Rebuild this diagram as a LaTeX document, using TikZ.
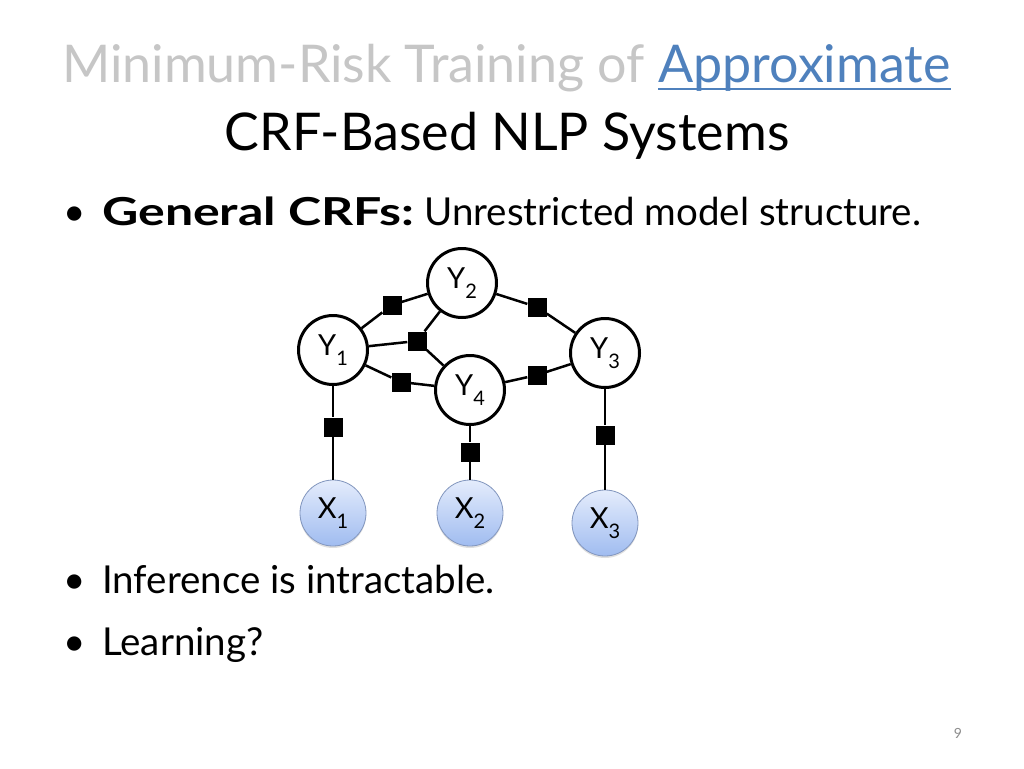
\documentclass[tikz,border=0pt]{standalone}
\usepackage{fontspec}
\setmainfont{Lato}
\usetikzlibrary{shadows,calc}
\definecolor{titlegray}{RGB}{198,198,198}
\definecolor{linkblue}{RGB}{79,129,189}
\definecolor{xtop}{RGB}{228,236,252}
\definecolor{xbot}{RGB}{160,188,240}
\definecolor{xborder}{RGB}{130,150,190}
\definecolor{pagegray}{RGB}{140,140,140}
\newcommand{\lsub}[1]{\raisebox{-0.36em}{\fontsize{20}{20}\selectfont #1}}
\begin{document}
\begin{tikzpicture}[x=1pt,y=-1pt,
  ynode/.style={circle,draw=black,line width=3pt,fill=white,minimum size=69pt,inner sep=0pt,font=\fontsize{29}{29}\selectfont},
  xnode/.style={circle,draw=xborder,line width=0.8pt,top color=xtop,bottom color=xbot,minimum size=66pt,inner sep=0pt,font=\fontsize{29}{29}\selectfont,
    drop shadow={shadow xshift=0pt,shadow yshift=-2pt,opacity=0.25}},
  factor/.style={rectangle,fill=black,minimum size=19pt,inner sep=0pt},
  edge/.style={line width=2.5pt},
  titletxt/.style={inner sep=0pt,font=\fontsize{52}{52}\selectfont},
  txt/.style={anchor=base west,inner sep=0pt,font=\fontsize{38.5}{38.5}\selectfont}]
\useasboundingbox[fill=white] (0,0) rectangle (1024,768);

% title
\node[titletxt,anchor=base west,text=titlegray] (t1g) at (62,82) {Minimum-Risk Training of\ \null};
\node[titletxt,anchor=base west,text=linkblue] (t1b) at (t1g.base east) {Approximate};
\coordinate (ulA) at ($(t1b.base west)+(0,7)$);
\coordinate (ulB) at ($(t1b.base east)+(0,7)$);
\draw[linkblue,line width=1.8pt] (ulA) -- (ulB);
\node[titletxt,anchor=base] (t2) at (507,150) {CRF-Based NLP Systems};

% bullets
\node[txt] (b1) at (63,225) {•};
\node[txt] (l1) at (102,225) {\scalebox{1.3}[1]{\textbf{General CRFs:}} Unrestricted model structure.};
\node[txt] (b2) at (63,593) {•};
\node[txt] (l2) at (102,593) {Inference is intractable.};
\node[txt] (b3) at (63,655) {•};
\node[txt] (l3) at (102,655) {Learning?};
\node[anchor=base,inner sep=0pt,font=\fontsize{14}{14}\selectfont,text=pagegray] (pg) at (958,738) {9};

% graph nodes
\node[ynode] (Y1) at (333,350) {Y\lsub{1}};
\node[ynode] (Y2) at (462,283) {Y\lsub{2}};
\node[ynode] (Y3) at (605,353) {Y\lsub{3}};
\node[ynode] (Y4) at (470,390) {Y\lsub{4}};
\node[xnode] (X1) at (333,513) {X\lsub{1}};
\node[xnode] (X2) at (470,513) {X\lsub{2}};
\node[xnode] (X3) at (605,523) {X\lsub{3}};

% factors
\node[factor] (f12) at (392,305) {};
\node[factor] (fc)  at (417,341) {};
\node[factor] (f14) at (401,382) {};
\node[factor] (f23) at (537,307) {};
\node[factor] (f34) at (537,375) {};
\node[factor] (f1x) at (333,427) {};
\node[factor] (f4x) at (470,452) {};
\node[factor] (f3x) at (605,435) {};

% edges
\draw[edge] (Y1) -- (f12) -- (Y2);
\draw[edge] (Y1) -- (fc);
\draw[edge] (Y2) -- (fc);
\draw[edge] (fc) -- (Y4);
\draw[edge] (Y1) -- (f14) -- (Y4);
\draw[edge] (Y2) -- (f23) -- (Y3);
\draw[edge] (Y3) -- (f34) -- (Y4);
\draw[edge] (Y1) -- (f1x) -- (X1);
\draw[edge] (Y4) -- (f4x) -- (X2);
\draw[edge] (Y3) -- (f3x) -- (X3);
\end{tikzpicture}
\end{document}
